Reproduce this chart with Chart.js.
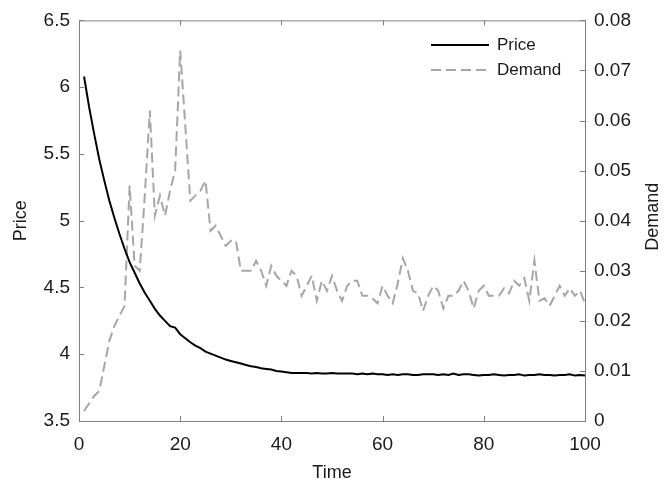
<!DOCTYPE html>
<html>
<head>
<meta charset="utf-8">
<script src="https://cdn.jsdelivr.net/npm/chart.js@4.4.1/dist/chart.umd.min.js"></script>
<style>
  html, body { margin: 0; padding: 0; background: #ffffff; }
  #wrap { width: 669px; height: 487px; }
</style>
</head>
<body>
<div id="wrap"><canvas id="c" width="669" height="487"></canvas></div>
<script>
const time = [1,2,3,4,5,6,7,8,9,10,11,12,13,14,15,16,17,18,19,20,
  21,22,23,24,25,26,27,28,29,30,31,32,33,34,35,36,37,38,39,40,
  41,42,43,44,45,46,47,48,49,50,51,52,53,54,55,56,57,58,59,60,
  61,62,63,64,65,66,67,68,69,70,71,72,73,74,75,76,77,78,79,80,
  81,82,83,84,85,86,87,88,89,90,91,92,93,94,95,96,97,98,99,100];

const price = [6.08,5.85,5.65,5.46,5.30,5.15,5.02,4.90,4.79,4.69,
  4.61,4.53,4.46,4.40,4.34,4.29,4.25,4.21,4.20,4.15,
  4.12,4.09,4.065,4.045,4.02,4.005,3.99,3.975,3.96,3.95,
  3.94,3.93,3.92,3.91,3.905,3.895,3.89,3.885,3.875,3.87,
  3.865,3.86,3.86,3.86,3.86,3.855,3.86,3.855,3.855,3.86,
  3.855,3.855,3.855,3.855,3.85,3.855,3.85,3.855,3.85,3.85,
  3.845,3.85,3.845,3.85,3.85,3.845,3.845,3.85,3.85,3.85,
  3.845,3.85,3.845,3.855,3.845,3.85,3.85,3.845,3.84,3.845,
  3.845,3.85,3.845,3.84,3.845,3.845,3.85,3.84,3.845,3.845,
  3.85,3.845,3.845,3.84,3.845,3.845,3.85,3.84,3.845,3.84];

const demand = [0.002,0.0035,0.005,0.006,0.011,0.016,0.019,0.021,0.023,0.047,
  0.031,0.030,0.045,0.062,0.041,0.045,0.041,0.046,0.050,0.074,
  0.059,0.044,0.045,0.046,0.048,0.038,0.039,0.037,0.035,0.036,
  0.036,0.030,0.030,0.030,0.032,0.030,0.027,0.031,0.029,0.028,
  0.027,0.030,0.029,0.025,0.027,0.029,0.024,0.028,0.026,0.029,
  0.026,0.024,0.027,0.028,0.028,0.025,0.025,0.0245,0.0235,0.027,
  0.025,0.0235,0.0275,0.0325,0.030,0.026,0.0255,0.022,0.025,0.027,
  0.026,0.0225,0.025,0.025,0.026,0.028,0.026,0.0225,0.026,0.027,
  0.025,0.025,0.025,0.0265,0.0255,0.028,0.027,0.0285,0.024,0.032,
  0.024,0.0245,0.023,0.025,0.027,0.025,0.0265,0.025,0.026,0.0235];

const timeTickLabels = ['0','20','40','60','80','100'];
const priceTickLabels = ['3.5','4','4.5','5','5.5','6','6.5'];
const demandTickLabels = ['0','0.01','0.02','0.03','0.04','0.05','0.06','0.07','0.08'];

const seriesNames = ['Price', 'Demand'];
const axisTitles = { x: 'Time', y: 'Price', y1: 'Demand' };

const FONT = "'Liberation Sans', Arial, Helvetica, sans-serif";
const AXIS_COLOR = '#808080';
const TEXT_COLOR = '#1a1a1a';
const DEMAND_COLOR = '#a6a6a6';

const boxTicksPlugin = {
  id: 'boxTicks',
  afterDraw(chart) {
    const ctx = chart.ctx;
    const a = chart.chartArea;
    const L = 5;
    ctx.save();
    ctx.strokeStyle = AXIS_COLOR;
    ctx.lineWidth = 1;
    // top border
    ctx.beginPath();
    ctx.moveTo(a.left, a.top + 0.5);
    ctx.lineTo(a.right, a.top + 0.5);
    ctx.stroke();
    // x ticks (bottom and top, inward)
    const xs = chart.scales.x;
    xs.ticks.forEach(t => {
      const px = Math.round(xs.getPixelForValue(t.value)) + 0.5;
      ctx.beginPath();
      ctx.moveTo(px, a.bottom); ctx.lineTo(px, a.bottom - L);
      ctx.moveTo(px, a.top); ctx.lineTo(px, a.top + L);
      ctx.stroke();
    });
    const ys = chart.scales.y;
    ys.ticks.forEach(t => {
      const py = Math.round(ys.getPixelForValue(t.value)) + 0.5;
      ctx.beginPath();
      ctx.moveTo(a.left, py); ctx.lineTo(a.left + L, py);
      ctx.stroke();
    });
    const y1 = chart.scales.y1;
    y1.ticks.forEach(t => {
      const py = Math.round(y1.getPixelForValue(t.value)) + 0.5;
      ctx.beginPath();
      ctx.moveTo(a.right, py); ctx.lineTo(a.right - L, py);
      ctx.stroke();
    });
    // right axis title, reading bottom-to-top
    ctx.fillStyle = TEXT_COLOR;
    ctx.font = "18px " + FONT;
    ctx.textAlign = 'center';
    ctx.textBaseline = 'middle';
    ctx.translate(653, (a.top + a.bottom) / 2 - 4);
    ctx.rotate(-Math.PI / 2);
    ctx.fillText(axisTitles.y1, 0, 0);
    ctx.restore();

    // legend
    ctx.save();
    const rows = [45, 70];
    chart.data.datasets.forEach((ds, i) => {
      const y = rows[i];
      ctx.strokeStyle = ds.borderColor;
      ctx.lineWidth = ds.borderWidth;
      ctx.setLineDash(ds.borderDash || []);
      ctx.beginPath();
      ctx.moveTo(431, y); ctx.lineTo(489, y);
      ctx.stroke();
      ctx.setLineDash([]);
      ctx.fillStyle = TEXT_COLOR;
      ctx.font = "17px " + FONT;
      ctx.textAlign = 'left';
      ctx.textBaseline = 'middle';
      ctx.fillText(ds.label, 497, y);
    });
    ctx.restore();
  }
};

const ctx = document.getElementById('c').getContext('2d');
new Chart(ctx, {
  type: 'line',
  data: {
    datasets: [
      {
        label: seriesNames[0],
        data: time.map((t, i) => ({ x: t, y: price[i] })),
        yAxisID: 'y',
        borderColor: '#000000',
        borderWidth: 2,
        pointRadius: 0,
        tension: 0,
        fill: false
      },
      {
        label: seriesNames[1],
        data: time.map((t, i) => ({ x: t, y: demand[i] })),
        yAxisID: 'y1',
        borderColor: DEMAND_COLOR,
        borderWidth: 2,
        borderDash: [10, 5],
        pointRadius: 0,
        tension: 0,
        fill: false
      }
    ]
  },
  options: {
    responsive: false,
    animation: false,
    devicePixelRatio: 1,
    layout: { padding: { top: 13, left: 0, right: 0, bottom: 0 } },
    plugins: { legend: { display: false }, tooltip: { enabled: false } },
    scales: {
      x: {
        type: 'linear',
        min: 0, max: 100,
        afterFit(s) { s.height = 66; },
        grid: { display: false, drawTicks: false },
        border: { display: true, color: AXIS_COLOR, width: 1 },
        ticks: {
          stepSize: 20, autoSkip: false, maxRotation: 0, padding: 12,
          color: TEXT_COLOR, font: { family: FONT, size: 19 },
          callback: (v, i) => timeTickLabels[i]
        },
        title: {
          display: true, text: axisTitles.x, color: TEXT_COLOR,
          font: { family: FONT, size: 18 }, padding: { top: 0, bottom: 3 }
        }
      },
      y: {
        type: 'linear', position: 'left',
        min: 3.5, max: 6.5,
        afterFit(s) { s.width = 79; },
        grid: { display: false, drawTicks: false },
        border: { display: true, color: AXIS_COLOR, width: 1 },
        ticks: {
          stepSize: 0.5, autoSkip: false, padding: 9,
          color: TEXT_COLOR, font: { family: FONT, size: 19 },
          callback: (v, i) => priceTickLabels[i]
        },
        title: {
          display: true, text: axisTitles.y, color: TEXT_COLOR,
          font: { family: FONT, size: 18 }, padding: { top: 10, bottom: 0 }
        }
      },
      y1: {
        type: 'linear', position: 'right',
        min: 0, max: 0.08,
        afterFit(s) { s.width = 84; },
        grid: { display: false, drawTicks: false },
        border: { display: true, color: AXIS_COLOR, width: 1 },
        ticks: {
          stepSize: 0.01, autoSkip: false, padding: 9,
          color: TEXT_COLOR, font: { family: FONT, size: 19 },
          callback: (v, i) => demandTickLabels[i]
        },
        title: { display: false, text: axisTitles.y1 }
      }
    }
  },
  plugins: [boxTicksPlugin]
});
</script>
</body>
</html>
